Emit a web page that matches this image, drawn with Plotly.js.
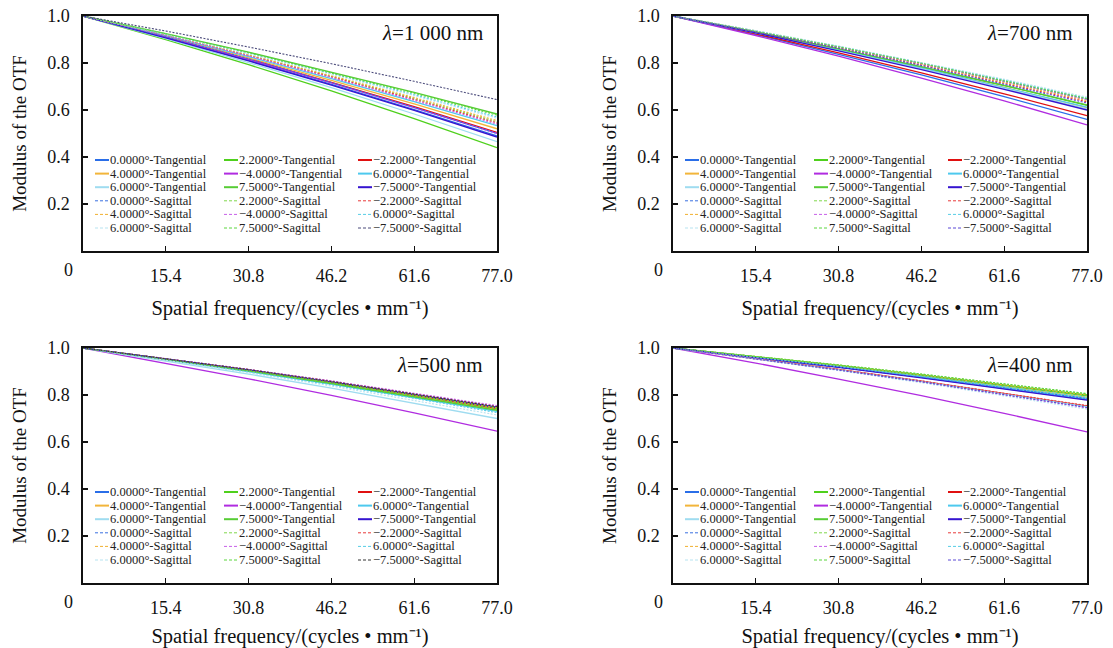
<!DOCTYPE html>
<html><head><meta charset="utf-8">
<script src="https://cdn.plot.ly/plotly-3.0.1.min.js"></script>
<style>html,body{margin:0;padding:0;background:#fff}#chart{width:1113px;height:648px}</style>
</head><body><div id="chart"></div>
<script>
const freq = [0, 15.4, 30.8, 46.2, 61.6, 77.0];
const xTickVals = [15.4, 30.8, 46.2, 61.6, 77.0];
const xTickText = ['15.4', '30.8', '46.2', '61.6', '77.0'];
const yTickVals = [0.2, 0.4, 0.6, 0.8, 1.0];
const yTickText = ['0.2', '0.4', '0.6', '0.8', '1.0'];
const fieldAngles = ['0.0000°', '2.2000°', '−2.2000°', '4.0000°', '−4.0000°', '6.0000°', '6.0000°', '7.5000°', '−7.5000°'];
const wavelengths = ['1 000', '700', '500', '400'];

// Tangential curves (same order as fieldAngles)
const otf1000T = [
  [1, .908, .811, .709, .602, .490],
  [1, .899, .793, .681, .563, .440],
  [1, .911, .817, .718, .614, .505],
  [1, .914, .822, .726, .626, .520],
  [1, .910, .815, .715, .610, .500],
  [1, .916, .827, .734, .636, .533],
  [1, .904, .802, .695, .583, .465],
  [1, .925, .846, .762, .675, .583],
  [1, .907, .809, .706, .598, .485]
];
const otf1000S = [
  [1, .912, .818, .717, .611, .500],
  [1, .919, .833, .743, .649, .550],
  [1, .918, .832, .741, .645, .545],
  [1, .920, .835, .746, .653, .555],
  [1, .917, .830, .738, .641, .540],
  [1, .923, .841, .755, .665, .570],
  [1, .922, .839, .752, .661, .565],
  [1, .924, .844, .759, .671, .578],
  [1, .936, .868, .797, .722, .644]
];
const otf700T = [
  [1, .921, .837, .749, .657, .560],
  [1, .932, .859, .783, .704, .620],
  [1, .924, .843, .758, .669, .576],
  [1, .930, .856, .778, .696, .610],
  [1, .917, .829, .736, .639, .537],
  [1, .930, .857, .779, .697, .612],
  [1, .929, .854, .775, .692, .605],
  [1, .932, .860, .785, .705, .622],
  [1, .928, .852, .772, .688, .600]
];
const otf700S = [
  [1, .936, .869, .798, .723, .645],
  [1, .937, .870, .800, .727, .650],
  [1, .934, .865, .792, .715, .635],
  [1, .935, .867, .795, .719, .640],
  [1, .936, .868, .797, .722, .645],
  [1, .937, .871, .801, .728, .650],
  [1, .938, .872, .803, .731, .655],
  [1, .936, .869, .799, .725, .648],
  [1, .933, .863, .789, .711, .630]
];
const otf500T = [
  [1, .954, .906, .855, .801, .745],
  [1, .953, .904, .852, .797, .740],
  [1, .954, .905, .853, .799, .742],
  [1, .953, .903, .851, .796, .738],
  [1, .936, .869, .798, .724, .646],
  [1, .951, .900, .846, .789, .730],
  [1, .946, .889, .829, .766, .700],
  [1, .952, .902, .849, .793, .735],
  [1, .955, .907, .856, .803, .748]
];
const otf500S = [
  [1, .955, .908, .858, .805, .750],
  [1, .955, .907, .857, .804, .748],
  [1, .956, .909, .859, .807, .752],
  [1, .954, .906, .855, .801, .745],
  [1, .956, .909, .860, .809, .755],
  [1, .950, .898, .843, .786, .725],
  [1, .949, .895, .838, .778, .715],
  [1, .954, .905, .853, .799, .742],
  [1, .955, .908, .857, .805, .750]
];
const otf400T = [
  [1, .961, .919, .875, .829, .781],
  [1, .964, .926, .886, .844, .800],
  [1, .956, .909, .859, .807, .753],
  [1, .962, .922, .880, .836, .790],
  [1, .936, .868, .797, .722, .643],
  [1, .961, .920, .877, .832, .785],
  [1, .955, .908, .858, .805, .750],
  [1, .963, .925, .884, .841, .796],
  [1, .960, .918, .873, .827, .778]
];
const otf400S = [
  [1, .961, .920, .877, .832, .785],
  [1, .965, .928, .889, .848, .805],
  [1, .956, .909, .860, .809, .755],
  [1, .964, .926, .886, .844, .800],
  [1, .954, .906, .855, .801, .745],
  [1, .962, .922, .880, .836, .790],
  [1, .953, .904, .852, .797, .740],
  [1, .965, .928, .889, .849, .806],
  [1, .954, .906, .856, .803, .747]
];

const tanColors = ['#2a6ee8', '#4fd01c', '#e01010', '#f2b53a', '#b02ce0', '#4dc9ee', '#9fdcf0', '#57cc35', '#3514d0'];
const sagColorsBase = ['#3a70e0', '#7fd84a', '#e83a3a', '#f0b030', '#c75ee8', '#55cde6', '#b7e3f0', '#5ad63c', '#5b48d6'];
const lastSagColor = ['#4a4a7a', '#5b48d6', '#333333', '#5b48d6'];

const panelT = [otf1000T, otf700T, otf500T, otf400T];
const panelS = [otf1000S, otf700S, otf500S, otf400S];

// layout geometry (pixels)
const W = 1113, H = 648;
const boxes = [{l: 83, t: 16}, {l: 673, t: 16}, {l: 83, t: 348}, {l: 673, t: 348}];
const pw = 414, ph = 235;
const px = v => v / W;
const py = v => 1 - v / H;
const FONT = '"Liberation Serif", "Times New Roman", serif';
const INK = '#111111';

const traces = [];
const layout = {
  width: W, height: H,
  margin: {l: 0, r: 0, t: 0, b: 0},
  paper_bgcolor: '#ffffff', plot_bgcolor: '#ffffff',
  showlegend: false,
  font: {family: FONT, color: INK, size: 18},
  annotations: [], shapes: []
};

boxes.forEach((b, p) => {
  const sfx = p === 0 ? '' : String(p + 1);
  const xa = 'x' + sfx, ya = 'y' + sfx;
  const sagColors = sagColorsBase.slice(0, 8).concat([lastSagColor[p]]);
  panelT[p].forEach((vals, i) => {
    traces.push({x: freq, y: vals, xaxis: xa, yaxis: ya, type: 'scatter', mode: 'lines',
      name: fieldAngles[i] + '-Tangential', line: {color: tanColors[i], width: 1.3}, hoverinfo: 'skip'});
  });
  panelS[p].forEach((vals, i) => {
    traces.push({x: freq, y: vals, xaxis: xa, yaxis: ya, type: 'scatter', mode: 'lines',
      name: fieldAngles[i] + '-Sagittal', line: {color: sagColors[i], width: 1.1, dash: '2px,1.5px'}, hoverinfo: 'skip'});
  });

  layout['xaxis' + sfx] = {
    domain: [px(b.l), px(b.l + pw)], anchor: ya, range: [0, 77],
    tickvals: xTickVals, ticktext: xTickText, ticks: 'inside', ticklen: 5, tickwidth: 1.3, tickcolor: INK,
    showline: true, mirror: true, linecolor: INK, linewidth: 1.6, showgrid: false, zeroline: false,
    tickfont: {family: FONT, size: 18, color: INK}, ticklabelstandoff: 8,
    title: {text: 'Spatial frequency/(cycles • mm⁻¹)', font: {family: FONT, size: 20.5, color: INK}, standoff: 15}
  };
  layout['yaxis' + sfx] = {
    domain: [py(b.t + ph), py(b.t)], anchor: xa, range: [0, 1],
    tickvals: yTickVals, ticktext: yTickText, ticks: 'inside', ticklen: 5, tickwidth: 1.3, tickcolor: INK,
    showline: true, mirror: true, linecolor: INK, linewidth: 1.6, showgrid: false, zeroline: false,
    tickfont: {family: FONT, size: 18, color: INK}, ticklabelstandoff: 8,
    title: {text: 'Modulus of the OTF', font: {family: FONT, size: 19, color: INK}, standoff: 15}
  };

  // origin label "0"
  layout.annotations.push({xref: 'paper', yref: 'paper', x: px(b.l - 15), y: py(b.t + ph + 19),
    text: '0', showarrow: false, xanchor: 'center', yanchor: 'middle', font: {family: FONT, size: 18, color: INK}});
  // wavelength label
  layout.annotations.push({xref: 'paper', yref: 'paper', x: px(b.l + 402), y: py(b.t + 17),
    text: '<span style="font-style:italic;font-size:21px">λ</span>=' + wavelengths[p] + ' nm', showarrow: false,
    xanchor: 'right', yanchor: 'middle', font: {family: FONT, size: 21, color: INK}});

  // legend block: 6 rows x 3 columns, row-major (tangential rows first)
  const colOff = [12, 141, 275];
  const entries = [];
  fieldAngles.forEach((a, i) => entries.push({text: a + '-Tangential', color: tanColors[i], dash: false, w: 2}));
  fieldAngles.forEach((a, i) => entries.push({text: a + '-Sagittal', color: sagColors[i], dash: true, w: 1}));
  entries.forEach((e, k) => {
    const row = Math.floor(k / 3), col = k % 3;
    const yy = b.t + 144 + row * 13.6;
    const x0 = b.l + colOff[col];
    layout.shapes.push({type: 'line', xref: 'paper', yref: 'paper', x0: px(x0), x1: px(x0 + 14), y0: py(yy), y1: py(yy),
      line: {color: e.color, width: e.w, dash: e.dash ? '3px,2px' : 'solid'}});
    layout.annotations.push({xref: 'paper', yref: 'paper', x: px(x0 + 14), y: py(yy), text: e.text, showarrow: false,
      xanchor: 'left', yanchor: 'middle', font: {family: FONT, size: 12.5, color: '#222222'}, borderpad: 0});
  });
});

Plotly.newPlot('chart', traces, layout, {staticPlot: true, displayModeBar: false});
</script></body></html>
